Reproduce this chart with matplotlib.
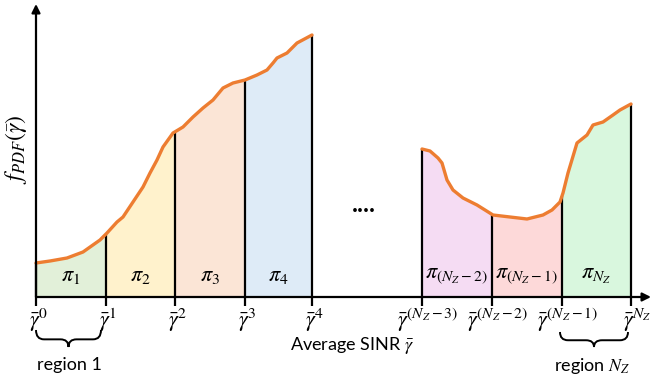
import numpy as np
import matplotlib
matplotlib.use("Agg")
import matplotlib.pyplot as plt
from matplotlib.patches import FancyArrowPatch, PathPatch
from matplotlib.path import Path

plt.rcParams['mathtext.fontset'] = 'stix'
plt.rcParams['font.family'] = ['Lato', 'DejaVu Sans']

# ---- data (x: SINR axis units, y: pdf height above baseline) ----
left_x = [36, 50, 67, 83, 100, 107, 117, 123, 133, 143, 150, 157, 163, 173, 183, 193, 203, 213, 223, 233, 245, 257, 267, 273, 277, 287, 297, 312]
left_y = [34, 36, 39, 45, 57, 64, 75, 80, 95, 110, 124, 137, 150, 164, 170, 180, 189, 197, 209, 214, 217, 222, 227, 234, 239, 244, 254, 262]
right_x = [422, 430, 438, 442, 447, 453, 463, 477, 493, 510, 527, 543, 552, 560, 563, 568, 577, 587, 593, 603, 613, 620, 631]
right_y = [148, 146, 139, 134, 117, 107, 99, 92, 82, 80, 78, 82, 87, 95, 104, 124, 154, 162, 172, 175, 182, 187, 193]

left_bounds = [36, 106, 175, 245, 312]
right_bounds = [422, 492, 562, 631]
left_colors = ['#e2f0d9', '#fff2cc', '#fbe5d6', '#deebf7']
right_colors = ['#f5dcf3', '#fdd9d9', '#d9f7de']
left_pi = [r'$\pi_1$', r'$\pi_2$', r'$\pi_3$', r'$\pi_4$']
right_pi = [r'$\pi_{(N_Z-2)}$', r'$\pi_{(N_Z-1)}$', r'$\pi_{N_Z}$']
left_ticks = [r'$\bar{\gamma}^{0}$', r'$\bar{\gamma}^{1}$', r'$\bar{\gamma}^{2}$', r'$\bar{\gamma}^{3}$', r'$\bar{\gamma}^{4}$']
right_ticks = [r'$\bar{\gamma}^{(N_Z-3)}$', r'$\bar{\gamma}^{(N_Z-2)}$', r'$\bar{\gamma}^{(N_Z-1)}$', r'$\bar{\gamma}^{N_Z}$']

fig = plt.figure(figsize=(6.52, 3.84), dpi=100)
ax = fig.add_axes([0, 0, 1, 1])
ax.set_xlim(0, 652)
ax.set_ylim(-87, 297)
ax.axis('off')

def draw_part(cx, cy, bounds, colors, pis, ticks, tick_dx, pi_y):
    cx = np.asarray(cx, float); cy = np.asarray(cy, float)
    for i in range(len(bounds) - 1):
        a, b = bounds[i], bounds[i + 1]
        xs = np.linspace(a, b, 200)
        ys = np.interp(xs, cx, cy)
        ax.fill_between(xs, 0, ys, color=colors[i], lw=0, zorder=1)
        ax.text((a + b) / 2, pi_y, pis[i], ha='center', va='center', fontsize=16, zorder=5)
    for b in bounds:
        h = np.interp(b, cx, cy)
        ax.plot([b, b], [-9, h], color='black', lw=1.6, zorder=3, solid_capstyle='butt')
    ax.plot(cx, cy, color='#ed7d31', lw=2.4, zorder=4, solid_capstyle='round')
    for b, t in zip(bounds, ticks):
        ax.text(b + tick_dx, -23, t, ha='center', va='center', fontsize=16)

draw_part(left_x, left_y, left_bounds, left_colors, left_pi, left_ticks, 2, 21)
draw_part(right_x, right_y, right_bounds, right_colors, right_pi, right_ticks, 6, 21)

# axes arrows
ax.add_patch(FancyArrowPatch((36, 0), (651, 0), arrowstyle='-|>,head_length=5,head_width=2.5',
                             color='black', lw=1.6, zorder=6, shrinkA=0, shrinkB=0))
ax.add_patch(FancyArrowPatch((36, 0), (36, 293), arrowstyle='-|>,head_length=5,head_width=2.5',
                             color='black', lw=1.6, zorder=6, shrinkA=0, shrinkB=0))

ax.text(16, 148, r'$f_{PDF}(\bar{\gamma})$', rotation=90, ha='center', va='center', fontsize=17)
ax.text(352, -48, r'Average SINR $\bar{\gamma}$', ha='center', va='center', fontsize=13)
ax.text(364, 92, '....', ha='center', va='center', fontsize=18, fontweight='bold')

# curly braces
def brace(x0, x1, ytop, ybot):
    xm = (x0 + x1) / 2
    ymid = ytop - (ytop - ybot) * 0.55
    r = 8
    verts = [(x0, ytop), (x0, ymid), (x0 + r, ymid),
             (xm - r, ymid),
             (xm, ymid), (xm, ybot),
             (xm, ymid), (xm + r, ymid),
             (x1 - r, ymid),
             (x1, ymid), (x1, ytop)]
    codes = [Path.MOVETO, Path.CURVE3, Path.CURVE3,
             Path.LINETO,
             Path.CURVE3, Path.CURVE3,
             Path.CURVE3, Path.CURVE3,
             Path.LINETO,
             Path.CURVE3, Path.CURVE3]
    ax.add_patch(PathPatch(Path(verts, codes), fill=False, edgecolor='black', lw=1.4))

brace(36, 101, -33, -50)
brace(560, 628, -35, -50)
ax.text(69, -68, 'region 1', ha='center', va='center', fontsize=13)
ax.text(592, -69, r'region $N_Z$', ha='center', va='center', fontsize=13)

fig.savefig('out.png', dpi=100)
